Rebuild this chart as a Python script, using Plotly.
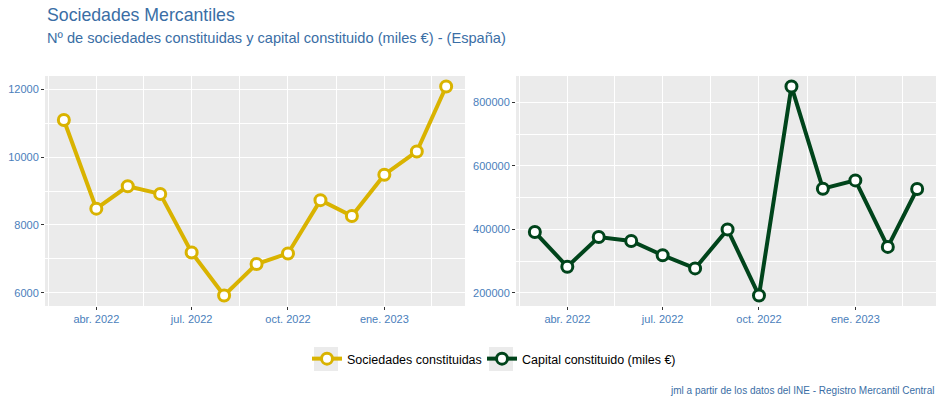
import plotly.graph_objects as go

months = ["2022-03-01", "2022-04-01", "2022-05-01", "2022-06-01", "2022-07-01", "2022-08-01",
          "2022-09-01", "2022-10-01", "2022-11-01", "2022-12-01", "2023-01-01", "2023-02-01", "2023-03-01"]
sociedades = [11090, 8480, 9140, 8915, 7190, 5920, 6850, 7160, 8730, 8265, 9480, 10165, 12080]
capital = [391700, 282300, 376000, 363500, 318700, 277100, 400000, 191700, 850000, 528100, 554200, 344800, 527100]

tick_vals = ["2022-04-01", "2022-07-01", "2022-10-01", "2023-01-01"]
tick_text = ["abr. 2022", "jul. 2022", "oct. 2022", "ene. 2023"]
minor_x = ["2022-02-14", "2022-05-16", "2022-08-16", "2022-11-16", "2023-02-15"]
x_range = ["2022-02-11", "2023-03-19"]

left_yticks = [6000, 8000, 10000, 12000]
left_yminor = [7000, 9000, 11000]
right_yticks = [200000, 400000, 600000, 800000]
right_yminor = [300000, 500000, 700000]

YELLOW = "#D9B300"
GREEN = "#00441B"
BLUE = "#3A6EA5"
TICKBLUE = "#4A7EBB"
FONT = "Liberation Sans, Arial, sans-serif"


def yrange(vals):
    lo, hi = min(vals), max(vals)
    pad = (hi - lo) * 0.05
    return [lo - pad, hi + pad]


fig = go.Figure()
fig.add_trace(go.Scatter(
    x=months, y=sociedades, mode="lines+markers", name="Sociedades constituidas",
    line=dict(color=YELLOW, width=4),
    marker=dict(size=11, color="white", line=dict(color=YELLOW, width=3)),
    xaxis="x", yaxis="y", legend="legend"))
fig.add_trace(go.Scatter(
    x=months, y=capital, mode="lines+markers", name="Capital constituido (miles €)",
    line=dict(color=GREEN, width=4),
    marker=dict(size=11, color="white", line=dict(color=GREEN, width=3)),
    xaxis="x2", yaxis="y2", legend="legend2"))

W, H = 944, 404
top_px, bot_px = 76, 306
ydom = [1 - bot_px / H, 1 - top_px / H]

common_x = dict(
    type="date", range=x_range, tickvals=tick_vals, ticktext=tick_text,
    showgrid=True, gridcolor="white", gridwidth=1.1, zeroline=False,
    ticks="outside", ticklen=3, tickcolor="#333333", tickwidth=1,
    tickfont=dict(family=FONT, size=11, color=TICKBLUE), showline=False,
    minor=dict(tickvals=minor_x, showgrid=True, gridcolor="white", gridwidth=0.5, ticks=""),
)
common_y = dict(
    showgrid=True, gridcolor="white", gridwidth=1.1, zeroline=False,
    ticks="outside", ticklen=3, tickcolor="#333333", tickwidth=1,
    tickfont=dict(family=FONT, size=11, color=TICKBLUE), showline=False, tickformat="d",
)


def px_box(x0, x1, y0, y1):
    return dict(type="rect", xref="paper", yref="paper",
                x0=x0 / W, x1=x1 / W, y0=1 - y1 / H, y1=1 - y0 / H,
                fillcolor="#EBEBEB", line=dict(width=0), layer="below")


legend_common = dict(orientation="h", xanchor="left", y=1 - 359 / H, yanchor="middle",
                     font=dict(family=FONT, size=12.5, color="black"),
                     bgcolor="rgba(0,0,0,0)", itemwidth=30)

fig.update_layout(
    width=W, height=H,
    margin=dict(l=0, r=0, t=0, b=0),
    paper_bgcolor="white", plot_bgcolor="#EBEBEB",
    font=dict(family=FONT),
    xaxis=dict(domain=[45 / W, 465 / W], anchor="y", **common_x),
    xaxis2=dict(domain=[516 / W, 936 / W], anchor="y2", **common_x),
    yaxis=dict(domain=ydom, anchor="x", range=yrange(sociedades), tickvals=left_yticks,
               minor=dict(tickvals=left_yminor, showgrid=True, gridcolor="white", gridwidth=0.5, ticks=""),
               **common_y),
    yaxis2=dict(domain=ydom, anchor="x2", range=yrange(capital), tickvals=right_yticks,
                minor=dict(tickvals=right_yminor, showgrid=True, gridcolor="white", gridwidth=0.5, ticks=""),
                **common_y),
    showlegend=True,
    legend=dict(x=307 / W, **legend_common),
    legend2=dict(x=482 / W, **legend_common),
    shapes=[px_box(314, 338, 347, 371), px_box(489, 513, 347, 371)],
    annotations=[
        dict(text="Sociedades Mercantiles", x=45 / W, y=1 - 15 / H, xref="paper", yref="paper",
             xanchor="left", yanchor="middle", showarrow=False,
             font=dict(family=FONT, size=17.7, color=BLUE)),
        dict(text="Nº de sociedades constituidas y capital constituido (miles €) - (España)",
             x=45 / W, y=1 - 38 / H, xref="paper", yref="paper",
             xanchor="left", yanchor="middle", showarrow=False,
             font=dict(family=FONT, size=14.6, color=BLUE)),
        dict(text="jml a partir de los datos del INE - Registro Mercantil Central",
             x=936 / W, y=1 - 390 / H, xref="paper", yref="paper",
             xanchor="right", yanchor="middle", showarrow=False,
             font=dict(family=FONT, size=10, color=BLUE)),
    ],
)

fig.write_html("out.html", config={"displayModeBar": False},
               post_script="document.body.style.margin='0';document.body.style.overflow='hidden';")
